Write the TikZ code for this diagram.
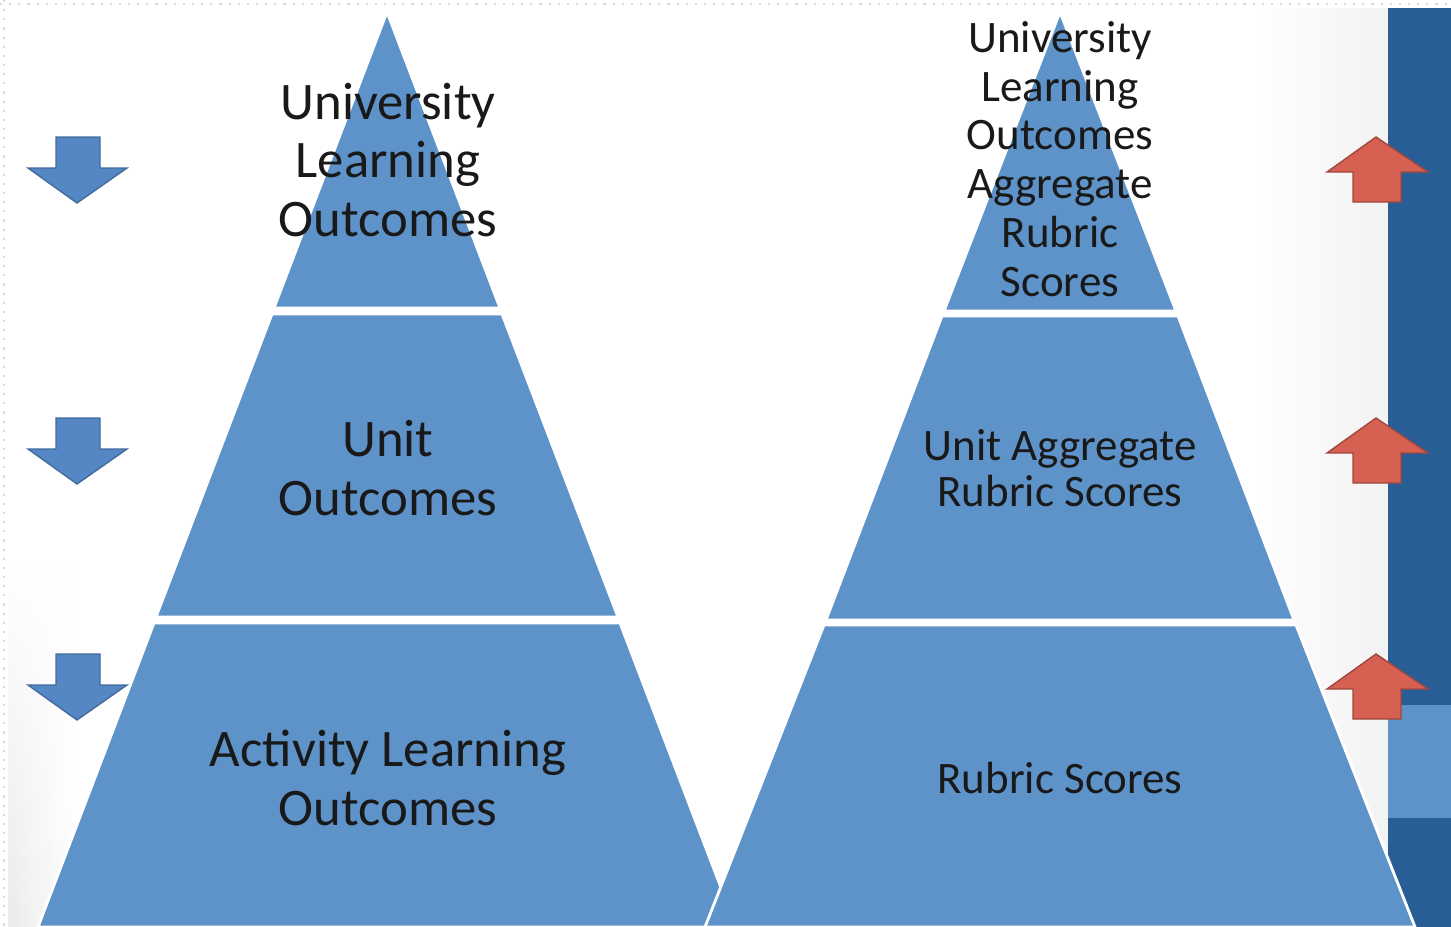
\documentclass[tikz,border=0pt]{standalone}
\usepackage{fontspec}
\setmainfont{Carlito}
\usetikzlibrary{fadings}
\begin{document}
\begin{tikzpicture}[x=0.01cm, y=-0.01cm,
    band/.style={fill=pyrblue, draw=white, line width=0.8pt, line join=miter},
    bigtext/.style={align=center, text=black!90, font=\fontsize{15}{16.6}\selectfont},
    smalltext/.style={align=center, text=black!90, font=\fontsize{12.8}{13.9}\selectfont},
    downarrow/.style={fill=arrowblue, draw=arrowblue!80!black, line width=0.4pt},
    uparrow/.style={fill=arrowred, draw=arrowred!75!black, line width=0.4pt},
  ]

\definecolor{pyrblue}{RGB}{94,147,202}
\definecolor{arrowblue}{RGB}{84,135,195}
\definecolor{arrowred}{RGB}{214,96,82}
\definecolor{bardark}{RGB}{40,93,150}

\useasboundingbox (0,0) rectangle (1451,927);

%background
\fill[white] (0,0) rectangle (1451,927);
\shade[left color=white, right color=gray!10] (1250,8) rectangle (1388,927);
\shade[left color=gray!16, right color=white, path fading=north] (8,560) rectangle (75,927);
\draw[gray!30, dotted, line width=0.6pt] (0,4) -- (1451,4);
\draw[gray!30, dotted, line width=0.6pt] (4,0) -- (4,927);

%side bar
\fill[bardark] (1388,8) rectangle (1451,927);
\fill[pyrblue] (1388,705) rectangle (1451,818);

%left pyramid
\draw[band] (387,12) -- (500,308) -- (274,308) -- cycle;
\draw[band] (272,314) -- (502,314) -- (618,617) -- (156,617) -- cycle;
\draw[band] (154,623) -- (620,623) -- (736,927) -- (38,927) -- cycle;

%right pyramid
\draw[band] (1060,12) -- (1176,311) -- (944,311) -- cycle;
\draw[band] (942,316) -- (1178,316) -- (1294,620) -- (826,620) -- cycle;
\draw[band] (824,625) -- (1296,625) -- (1415,927) -- (705,927) -- cycle;

%labels
\node[bigtext] (ulo) at (388,160) {University\\Learning\\Outcomes};
\node[bigtext] (uo) at (388,468) {Unit\\Outcomes};
\node[bigtext] (alo) at (388,778) {Activity Learning\\Outcomes};

\node[smalltext] (ulars) at (1060,159) {University\\Learning\\Outcomes\\Aggregate\\Rubric\\Scores};
\node[smalltext, font=\fontsize{12.8}{13}\selectfont] (uars) at (1060,468) {Unit Aggregate\\Rubric Scores};
\node[smalltext] (rs) at (1060,778) {Rubric Scores};

%arrows down (left) and up (right)
\foreach \y in {137, 418, 654}
{
   \draw[downarrow] (56,\y) -- (100,\y) -- (100,\y+31) -- (127,\y+31) -- (77,\y+66) -- (28,\y+31) -- (56,\y+31) -- cycle;
   \draw[uparrow] (1376,\y) -- (1428,\y+35) -- (1401,\y+35) -- (1401,\y+65) -- (1353,\y+65) -- (1353,\y+35) -- (1327,\y+35) -- cycle;
}

\end{tikzpicture}
\end{document}
